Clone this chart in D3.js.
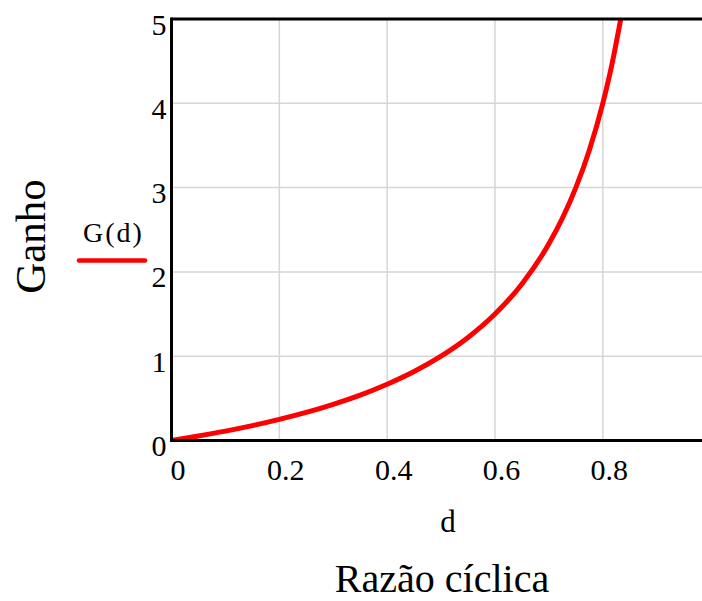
<!DOCTYPE html>
<html>
<head>
<meta charset="utf-8">
<script src="https://cdn.jsdelivr.net/npm/d3@7"></script>
<style>
  html, body { margin: 0; padding: 0; background: #fff; }
  svg { display: block; }
  text { font-family: "Liberation Serif", "Times New Roman", serif; fill: #000; }
</style>
</head>
<body>
<svg id="chart" width="702" height="601"></svg>
<script>
// Duty cycle d and gain G(d) sampled along the curve
const dutyCycle = [0, 0.05, 0.1, 0.15, 0.2, 0.25, 0.3, 0.35, 0.4, 0.45, 0.5, 0.55, 0.6, 0.65, 0.7, 0.725, 0.75, 0.775, 0.8, 0.8167, 0.8333];
const gain      = [0, 0.053, 0.111, 0.176, 0.25, 0.333, 0.429, 0.538, 0.667, 0.818, 1.0, 1.222, 1.5, 1.857, 2.333, 2.636, 3.0, 3.444, 4.0, 4.455, 5.0];

const xTicks = [0, 0.2, 0.4, 0.6, 0.8];
const xTickLabels = ["0", "0.2", "0.4", "0.6", "0.8"];
const yTicks = [0, 1, 2, 3, 4, 5];
const yTickLabels = ["0", "1", "2", "3", "4", "5"];

const seriesName = "G(d)";
const xVarLabel = "d";
const xTitle = "Razão cíclica";
const yTitle = "Ganho";

const svg = d3.select("#chart");
const plotLeft = 171.5, plotRight = 702, plotTop = 19, plotBottom = 440.5;

const x = d3.scaleLinear().domain([0, 0.984]).range([plotLeft, plotRight]);
const y = d3.scaleLinear().domain([0, 5]).range([plotBottom, plotTop]);

// grid
const grid = svg.append("g");
grid.selectAll("line.v").data(xTicks.filter(t => t > 0)).enter().append("line")
  .attr("x1", d => x(d)).attr("x2", d => x(d))
  .attr("y1", plotTop).attr("y2", plotBottom)
  .attr("stroke", "#d6d6d6").attr("stroke-width", 1.5);
grid.selectAll("line.h").data(yTicks.filter(t => t > 0 && t < 5)).enter().append("line")
  .attr("x1", plotLeft).attr("x2", plotRight)
  .attr("y1", d => y(d)).attr("y2", d => y(d))
  .attr("stroke", "#d6d6d6").attr("stroke-width", 1.5);

// curve, clipped to plot area
svg.append("clipPath").attr("id", "plotClip").append("rect")
  .attr("x", plotLeft).attr("y", plotTop).attr("width", plotRight - plotLeft).attr("height", plotBottom - plotTop);

const line = d3.line()
  .x((d, i) => x(dutyCycle[i]))
  .y(d => y(d))
  .curve(d3.curveMonotoneX);

svg.append("path")
  .datum(gain)
  .attr("clip-path", "url(#plotClip)")
  .attr("d", line)
  .attr("fill", "none")
  .attr("stroke", "#ff0000")
  .attr("stroke-width", 5)
  .attr("stroke-linejoin", "round");

// frame lines: left, top, bottom
svg.append("line").attr("x1", plotLeft).attr("x2", plotLeft).attr("y1", plotTop - 1.5).attr("y2", plotBottom + 1.5)
  .attr("stroke", "#000").attr("stroke-width", 3);
svg.append("line").attr("x1", plotLeft).attr("x2", plotRight).attr("y1", plotTop).attr("y2", plotTop)
  .attr("stroke", "#000").attr("stroke-width", 3);
svg.append("line").attr("x1", plotLeft).attr("x2", plotRight).attr("y1", plotBottom).attr("y2", plotBottom)
  .attr("stroke", "#000").attr("stroke-width", 3);

// axes (labels only)
const xAxis = d3.axisBottom(x).tickValues(xTicks)
  .tickFormat((d, i) => xTickLabels[i]).tickSize(0).tickPadding(18);
const gx = svg.append("g").attr("transform", `translate(0,${plotBottom})`).call(xAxis);
gx.attr("font-size", 30).attr("font-family", "Liberation Serif, Times New Roman, serif");
gx.select(".domain").remove();
gx.selectAll("text")
  .attr("dx", 6)
  .attr("fill", "#000");

const yAxis = d3.axisLeft(y).tickValues(yTicks)
  .tickFormat((d, i) => yTickLabels[i]).tickSize(0).tickPadding(5);
const gy = svg.append("g").attr("transform", `translate(${plotLeft},0)`).call(yAxis);
gy.attr("font-size", 30).attr("font-family", "Liberation Serif, Times New Roman, serif");
gy.select(".domain").remove();
gy.selectAll("text")
  .attr("dy", "15px")
  .attr("fill", "#000");

// legend
svg.append("text").attr("x", 83).attr("y", 242)
  .style("font-size", "28px").style("letter-spacing", "2px")
  .text(seriesName);
svg.append("line").attr("x1", 79).attr("x2", 145).attr("y1", 260.5).attr("y2", 260.5)
  .attr("stroke", "#ff0000").attr("stroke-width", 4.5).attr("stroke-linecap", "round");

// titles
svg.append("text").attr("x", 448).attr("y", 532)
  .attr("text-anchor", "middle").style("font-size", "31px").text(xVarLabel);
svg.append("text").attr("x", 442).attr("y", 592)
  .attr("text-anchor", "middle").style("font-size", "40px").text(xTitle);
svg.append("text").attr("transform", "translate(45,236.5) rotate(-90)")
  .attr("text-anchor", "middle").style("font-size", "43px").text(yTitle);
</script>
</body>
</html>
